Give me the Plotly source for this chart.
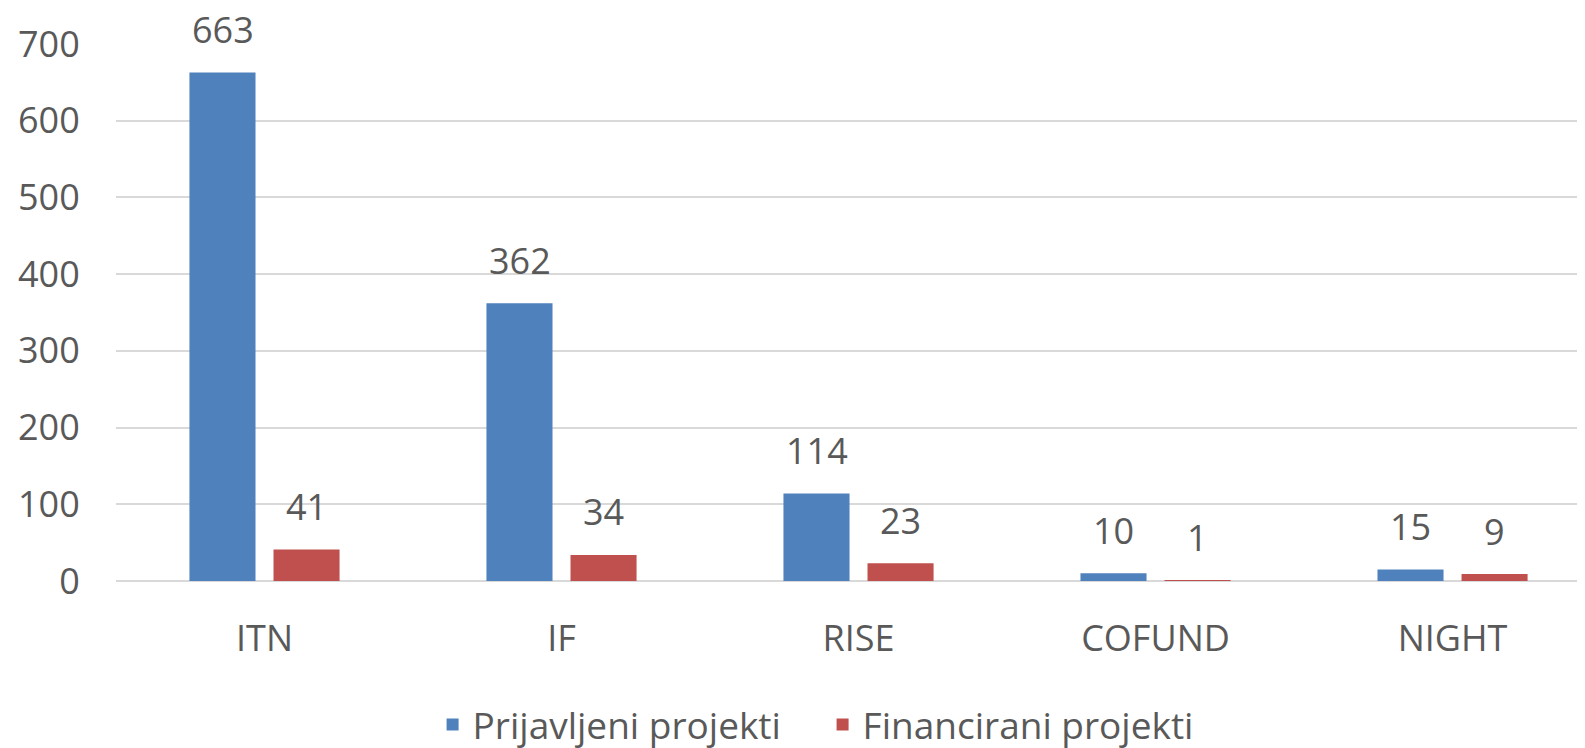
import plotly.graph_objects as go

categories = ["ITN", "IF", "RISE", "COFUND", "NIGHT"]
prijavljeni = [663, 362, 114, 10, 15]
financirani = [41, 34, 23, 1, 9]
series_names = ["Prijavljeni projekti", "Financirani projekti"]
colors = ["#4F81BD", "#C0504D"]
y_ticks = [0, 100, 200, 300, 400, 500, 600, 700]

FONT = "Open Sans, Noto Sans, sans-serif"
GRAY = "#595959"
SIZE = 36

fig = go.Figure()
for name, vals, col in zip(series_names, [prijavljeni, financirani], colors):
    fig.add_trace(go.Bar(x=categories, y=vals, name=name, marker_color=col,
                         marker_line_width=0))

annotations = []
for vals, shift in [(prijavljeni, -42), (financirani, 42)]:
    for c, v in zip(categories, vals):
        annotations.append(dict(x=c, y=v, xref="x", yref="y", text=str(v),
                                showarrow=False, xshift=shift, yshift=43,
                                yanchor="middle", xanchor="center",
                                font=dict(family=FONT, size=SIZE, color=GRAY)))

fig.update_layout(
    width=1577, height=748,
    paper_bgcolor="white", plot_bgcolor="white",
    margin=dict(l=108, r=0, t=36, b=175, autoexpand=False),
    barmode="group", bargap=0.434, bargroupgap=0.214,
    font=dict(family=FONT, size=SIZE, color=GRAY),
    annotations=annotations,
    showlegend=True,
    legend=dict(orientation="h", x=0.481, xanchor="center", y=-0.268,
                yanchor="middle", font=dict(family=FONT, size=37, color=GRAY),
                itemwidth=30, entrywidth=345, traceorder="normal"),
    xaxis=dict(range=[-0.5, 4.446], showgrid=False, showline=False,
               ticks="outside", ticklen=26, tickcolor="rgba(0,0,0,0)",
               tickfont=dict(family=FONT, size=SIZE, color=GRAY), zeroline=False),
    yaxis=dict(range=[0, 700], tickvals=y_ticks, showgrid=True, gridcolor="#D9D9D9",
               gridwidth=2, zeroline=True, zerolinecolor="#D9D9D9", zerolinewidth=2,
               showline=False, ticks="outside", ticklen=28, tickcolor="rgba(0,0,0,0)",
               tickfont=dict(family=FONT, size=SIZE, color=GRAY)),
)

fig.write_html("out.html")
